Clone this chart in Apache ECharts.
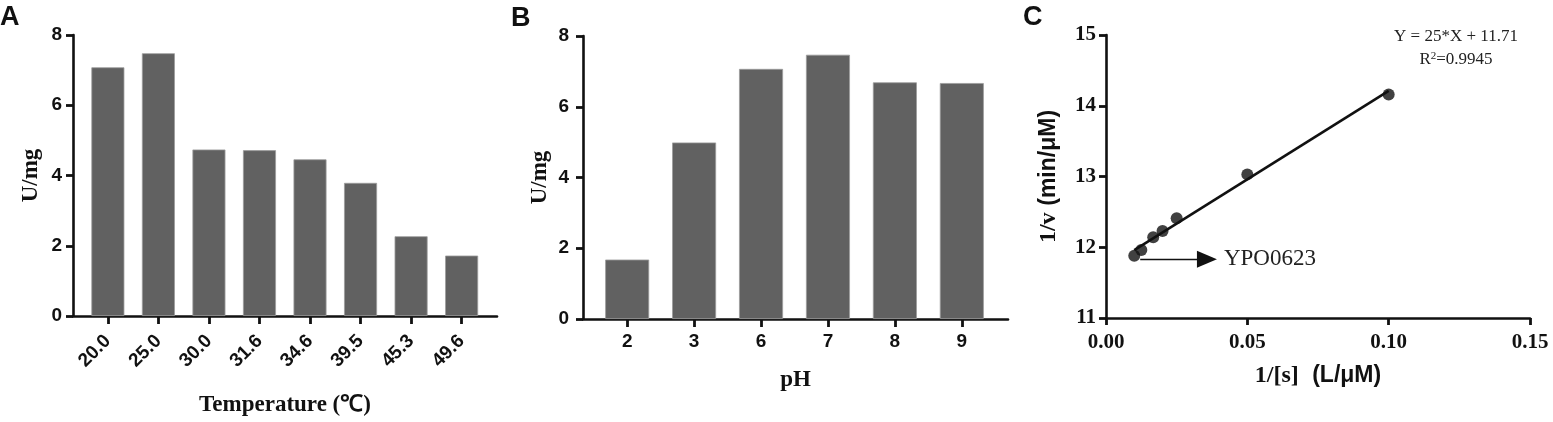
<!DOCTYPE html>
<html>
<head>
<meta charset="utf-8">
<script src="https://cdn.jsdelivr.net/npm/echarts@6/dist/echarts.min.js"></script>
<style>
html,body{margin:0;padding:0;background:#fff;}
#main{width:1553px;height:422px;}
</style>
</head>
<body>
<div id="main"></div>
<script>
// ---- Data ----
const tempCategories = ['20.0','25.0','30.0','31.6','34.6','39.5','45.3','49.6'];
const tempActivity = [7.08, 7.48, 4.74, 4.72, 4.46, 3.79, 2.27, 1.72];

const phCategories = ['2','3','6','7','8','9'];
const phActivity = [1.68, 4.99, 7.07, 7.47, 6.69, 6.67];

const lbX = [0.01, 0.0125, 0.0167, 0.02, 0.025, 0.05, 0.1];
const lbY = [11.88, 11.96, 12.14, 12.23, 12.41, 13.03, 14.16];
const fitX = [0.01, 0.1];
const fitY = [11.96, 14.21];
const arrowX = [0.0121, 0.0357];
const arrowY = 11.83;

// ---- Styles ----
const SANS = 'Liberation Sans';
const SERIF = 'Liberation Serif';
const BLACK = '#111';
const BAR = '#616161';

function axisLineCfg(){ return {show:true, onZero:false, lineStyle:{color:BLACK, width:2.6}}; }
function tickCfg(len){ return {show:true, inside:false, length:len, lineStyle:{color:BLACK, width:2.8}}; }

const chart = echarts.init(document.getElementById('main'), null, {renderer:'canvas'});

const option = {
  animation: false,
  backgroundColor: '#fff',
  grid: [
    {left:73, top:35, width:424, height:282},
    {left:583, top:36, width:425, height:283},
    {left:1106, top:35, width:424, height:283}
  ],
  xAxis: [
    {
      gridIndex:0, type:'value', min:-0.69, max:7.7,
      splitLine:{show:false},
      axisLine: axisLineCfg(),
      axisTick: Object.assign(tickCfg(8), {customValues: tempCategories.map((c,i)=>i)}),
      axisLabel: {
        customValues: tempCategories.map((c,i)=>i),
        formatter: v => tempCategories[Math.round(v)],
        rotate:45, margin:22, color:BLACK, fontFamily:SANS, fontWeight:'bold', fontSize:19
      },
      name:'Temperature (℃)', nameLocation:'middle', nameGap:78, nameMoveOverlap:false,
      nameTextStyle:{fontFamily:SERIF, fontWeight:'bold', fontSize:23, color:BLACK}
    },
    {
      gridIndex:1, type:'value', min:-0.66, max:5.69,
      splitLine:{show:false},
      axisLine: axisLineCfg(),
      axisTick: Object.assign(tickCfg(8), {customValues: phCategories.map((c,i)=>i)}),
      axisLabel: {
        customValues: phCategories.map((c,i)=>i),
        formatter: v => phCategories[Math.round(v)],
        margin:13, color:BLACK, fontFamily:SANS, fontWeight:'bold', fontSize:19
      },
      name:'pH', nameLocation:'middle', nameGap:50, nameMoveOverlap:false,
      nameTextStyle:{fontFamily:SERIF, fontWeight:'bold', fontSize:23, color:BLACK}
    },
    {
      gridIndex:2, type:'value', min:0, max:0.15, interval:0.05,
      splitLine:{show:false},
      axisLine: axisLineCfg(),
      axisTick: tickCfg(7),
      axisLabel: {
        formatter: v => v.toFixed(2),
        margin:14, color:BLACK, fontFamily:SERIF, fontWeight:'bold', fontSize:21
      },
      name:'{s|1/[s]}  {a|(L/μM)}', nameLocation:'middle', nameGap:46, nameMoveOverlap:false,
      nameTextStyle:{
        fontSize:24, color:BLACK,
        rich:{
          s:{fontFamily:SERIF, fontWeight:'bold', fontSize:24, color:BLACK},
          a:{fontFamily:SANS, fontWeight:'bold', fontSize:23, color:BLACK}
        }
      }
    }
  ],
  yAxis: [
    {
      gridIndex:0, type:'value', min:0, max:8, interval:2,
      splitLine:{show:false},
      axisLine: axisLineCfg(), axisTick: tickCfg(7),
      axisLabel:{margin:11, color:BLACK, fontFamily:SANS, fontWeight:'bold', fontSize:19,
        formatter: v => String(v)},
      name:'U/mg', nameLocation:'middle', nameRotate:90, nameGap:30, nameMoveOverlap:false,
      nameTextStyle:{fontFamily:SERIF, fontWeight:'bold', fontSize:23, color:BLACK}
    },
    {
      gridIndex:1, type:'value', min:0, max:8, interval:2,
      splitLine:{show:false},
      axisLine: axisLineCfg(), axisTick: tickCfg(7),
      axisLabel:{margin:14, color:BLACK, fontFamily:SANS, fontWeight:'bold', fontSize:19,
        formatter: v => String(v)},
      name:'U/mg', nameLocation:'middle', nameRotate:90, nameGap:31, nameMoveOverlap:false,
      nameTextStyle:{fontFamily:SERIF, fontWeight:'bold', fontSize:23, color:BLACK}
    },
    {
      gridIndex:2, type:'value', min:11, max:15, interval:1,
      splitLine:{show:false},
      axisLine: axisLineCfg(), axisTick: tickCfg(7),
      axisLabel:{margin:10, color:BLACK, fontFamily:SERIF, fontWeight:'bold', fontSize:21},
      name:'{s|1/v} {a|(min/μM)}', nameLocation:'middle', nameRotate:90, nameGap:45, nameMoveOverlap:false,
      nameTextStyle:{
        fontSize:24, color:BLACK,
        rich:{
          s:{fontFamily:SERIF, fontWeight:'bold', fontSize:24, color:BLACK},
          a:{fontFamily:SANS, fontWeight:'bold', fontSize:23, color:BLACK}
        }
      }
    }
  ],
  series: [
    {
      type:'bar', xAxisIndex:0, yAxisIndex:0, barWidth:33,
      itemStyle:{color:BAR, borderColor:'#9c9c9c', borderWidth:0.8},
      data: tempActivity.map((v,i)=>[i,v])
    },
    {
      type:'bar', xAxisIndex:1, yAxisIndex:1, barWidth:44,
      itemStyle:{color:BAR, borderColor:'#9c9c9c', borderWidth:0.8},
      data: phActivity.map((v,i)=>[i,v])
    },
    {
      type:'line', xAxisIndex:2, yAxisIndex:2, symbol:'none',
      lineStyle:{color:BLACK, width:2.6},
      data: fitX.map((x,i)=>[x, fitY[i]]),
      z:2
    },
    {
      type:'scatter', xAxisIndex:2, yAxisIndex:2, symbol:'circle', symbolSize:12,
      itemStyle:{color:BLACK},
      data: lbX.map((x,i)=>[x, lbY[i]]),
      z:3,
      markLine:{
        silent:true,
        symbol:['none','triangle'],
        symbolSize:[17,20],
        lineStyle:{color:BLACK, width:1.4, type:'solid'},
        label:{show:true, position:'end', formatter:'YPO0623', distance:17,
          fontFamily:SERIF, fontSize:23, color:'#222'},
        data:[[ {coord:[arrowX[0], arrowY]}, {coord:[arrowX[1], arrowY]} ]]
      }
    }
  ],
  graphic: [
    {type:'text', left:0, top:4, style:{text:'A', fontFamily:SANS, fontWeight:'bold', fontSize:27, fill:BLACK}},
    {type:'text', left:511, top:5, style:{text:'B', fontFamily:SANS, fontWeight:'bold', fontSize:27, fill:BLACK}},
    {type:'text', left:1023, top:4, style:{text:'C', fontFamily:SANS, fontWeight:'bold', fontSize:27, fill:BLACK}},
    {type:'text', x:1456, y:37, style:{text:'Y = 25*X + 11.71', fontFamily:SERIF, fontSize:17, fill:'#222', align:'center', verticalAlign:'middle'}},
    {type:'text', x:1456, y:60, style:{
      text:'{r|R}{sup|2}{r|=0.9945}', align:'center', verticalAlign:'middle',
      rich:{
        r:{fontFamily:SERIF, fontSize:17, fill:'#222', color:'#222'},
        sup:{fontFamily:SERIF, fontSize:11, fill:'#222', color:'#222', verticalAlign:'top', padding:[0,0,8,0]}
      }
    }}
  ]
};
chart.setOption(option);
</script>
</body>
</html>
